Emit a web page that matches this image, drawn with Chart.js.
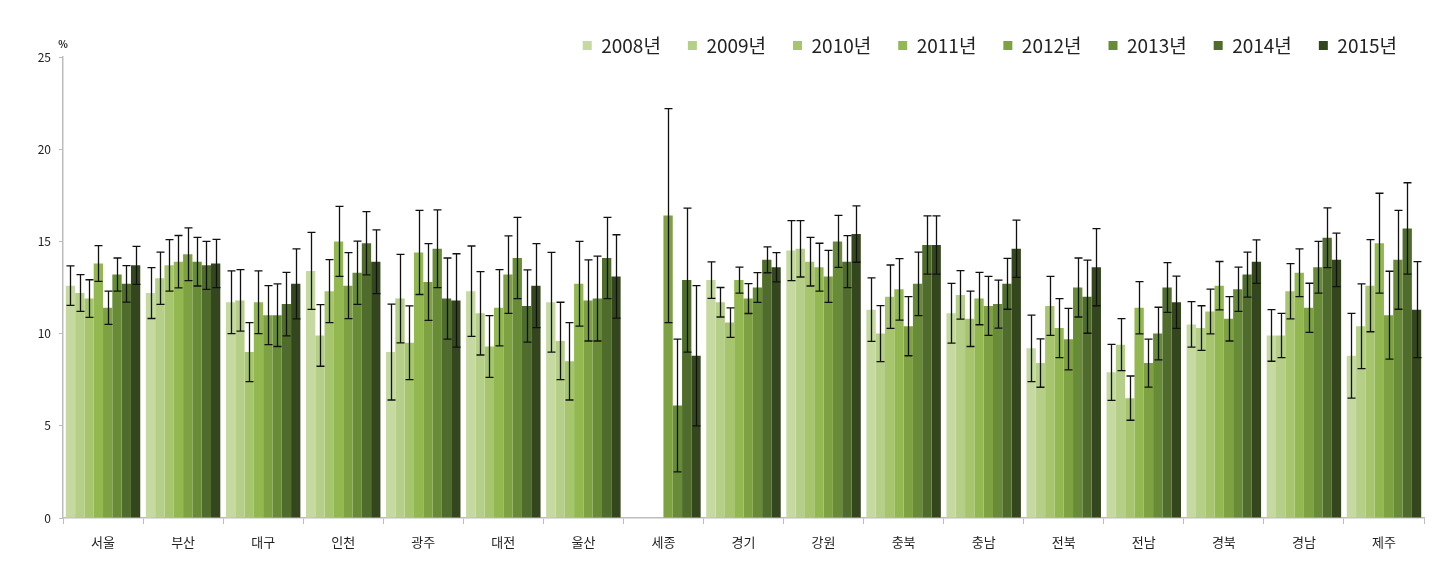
<!DOCTYPE html>
<html>
<head>
<meta charset="utf-8">
<script src="https://cdn.jsdelivr.net/npm/chart.js@4"></script>
<style>
  body { margin: 0; background: #fff; }
  #wrap { width: 1432px; height: 582px; }
</style>
</head>
<body>
<div id="wrap"><canvas id="myChart"></canvas></div>
<script>
const regions = ['서울', '부산', '대구', '인천', '광주', '대전', '울산', '세종', '경기', '강원', '충북', '충남', '전북', '전남', '경북', '경남', '제주'];
const years = ['2008년', '2009년', '2010년', '2011년', '2012년', '2013년', '2014년', '2015년'];
const yearColors = ['#c5d9a0', '#b6cf88', '#a6c56c', '#93b852', '#7ea142', '#678b37', '#4f6c2c', '#34461d'];

// bar values (%) per year, in region order
const v2008 = [12.6, 12.2, 11.7, 13.4, 9.0, 12.3, 11.7, null, 12.9, 14.5, 11.3, 11.1, 9.2, 7.9, 10.5, 9.9, 8.8];
const v2009 = [12.2, 13.0, 11.8, 9.9, 11.9, 11.1, 9.6, null, 11.7, 14.6, 10.0, 12.1, 8.4, 9.4, 10.3, 9.9, 10.4];
const v2010 = [11.9, 13.7, 9.0, 12.3, 9.5, 9.3, 8.5, null, 10.6, 13.9, 12.0, 10.8, 11.5, 6.5, 11.2, 12.3, 12.6];
const v2011 = [13.8, 13.9, 11.7, 15.0, 14.4, 11.4, 12.7, null, 12.9, 13.6, 12.4, 11.9, 10.3, 11.4, 12.6, 13.3, 14.9];
const v2012 = [11.4, 14.3, 11.0, 12.6, 12.8, 13.2, 11.8, 16.4, 11.9, 13.1, 10.4, 11.5, 9.7, 8.4, 10.8, 11.4, 11.0];
const v2013 = [13.2, 13.9, 11.0, 13.3, 14.6, 14.1, 11.9, 6.1, 12.5, 15.0, 12.7, 11.6, 12.5, 10.0, 12.4, 13.6, 14.0];
const v2014 = [12.7, 13.7, 11.6, 14.9, 11.9, 11.5, 14.1, 12.9, 14.0, 13.9, 14.8, 12.7, 12.0, 12.5, 13.2, 15.2, 15.7];
const v2015 = [13.7, 13.8, 12.7, 13.9, 11.8, 12.6, 13.1, 8.8, 13.6, 15.4, 14.8, 14.6, 13.6, 11.7, 13.9, 14.0, 11.3];

// error bar half widths (±) per year
const e2008 = [1.07, 1.38, 1.70, 2.09, 2.60, 2.45, 2.70, null, 0.99, 1.63, 1.72, 1.62, 1.80, 1.52, 1.23, 1.40, 2.30];
const e2009 = [1.00, 1.42, 1.67, 1.67, 2.40, 2.26, 2.10, null, 0.80, 1.53, 1.52, 1.31, 1.31, 1.41, 1.21, 1.20, 2.30];
const e2010 = [1.02, 1.40, 1.60, 1.71, 2.00, 1.67, 2.10, null, 0.80, 1.32, 1.72, 1.50, 1.60, 1.20, 1.21, 1.50, 2.50];
const e2011 = [0.97, 1.42, 1.70, 1.90, 2.28, 2.07, 2.30, null, 0.71, 1.30, 1.67, 1.42, 1.60, 1.42, 1.31, 1.30, 2.71];
const e2012 = [0.90, 1.43, 1.60, 1.79, 2.08, 2.10, 2.20, 5.80, 0.81, 1.41, 1.60, 1.60, 1.67, 1.30, 1.20, 1.33, 2.38];
const e2013 = [0.90, 1.32, 1.70, 1.71, 2.11, 2.20, 2.30, 3.60, 0.81, 1.41, 1.72, 1.30, 1.60, 1.43, 1.20, 1.40, 2.68];
const e2014 = [0.99, 1.30, 1.72, 1.71, 2.20, 1.96, 2.20, 3.90, 0.70, 1.41, 1.58, 1.38, 1.98, 1.35, 1.22, 1.62, 2.48];
const e2015 = [1.03, 1.31, 1.90, 1.73, 2.53, 2.28, 2.26, 3.80, 0.79, 1.53, 1.58, 1.55, 2.09, 1.42, 1.18, 1.45, 2.60];

const yTicks = [0, 5, 10, 15, 20, 25];

const values = [v2008, v2009, v2010, v2011, v2012, v2013, v2014, v2015];
const errors = [e2008, e2009, e2010, e2011, e2012, e2013, e2014, e2015];

const fontFamily = "'Noto Sans CJK KR', 'Noto Sans', sans-serif";

const datasets = years.map((y, i) => ({
    label: y,
    data: values[i],
    errors: errors[i],
    backgroundColor: yearColors[i],
    borderWidth: 0,
    barPercentage: 1.0,
    categoryPercentage: 0.93
}));

// shrink the legend box so the plot starts right under it
const legendHeight = {
    id: 'legendHeight',
    beforeInit(chart) {
        const fit = chart.legend.fit;
        chart.legend.fit = function () {
            fit.call(this);
            this.height = 48;
        };
    }
};

// error bars from the dataset's errors array
const errorBars = {
    id: 'errorBars',
    afterDatasetsDraw(chart) {
        const ctx = chart.ctx;
        const yScale = chart.scales.y;
        ctx.save();
        ctx.strokeStyle = '#111';
        ctx.lineWidth = 1.3;
        chart.data.datasets.forEach((ds, i) => {
            const meta = chart.getDatasetMeta(i);
            meta.data.forEach((bar, j) => {
                const v = ds.data[j];
                const e = ds.errors[j];
                if (v == null || e == null) return;
                const x = Math.round(bar.x) + 0.5;
                const top = yScale.getPixelForValue(v + e);
                const bot = yScale.getPixelForValue(v - e);
                ctx.beginPath();
                ctx.moveTo(x, top);
                ctx.lineTo(x, bot);
                ctx.moveTo(x - 4, top);
                ctx.lineTo(x + 4, top);
                ctx.moveTo(x - 4, bot);
                ctx.lineTo(x + 4, bot);
                ctx.stroke();
            });
        });
        ctx.restore();
    }
};

// "%" unit label above the y axis
const unitLabel = {
    id: 'unitLabel',
    afterDraw(chart) {
        const ctx = chart.ctx;
        const area = chart.chartArea;
        ctx.save();
        ctx.fillStyle = '#222';
        ctx.font = 'bold 10px ' + fontFamily;
        ctx.textAlign = 'center';
        ctx.textBaseline = 'middle';
        ctx.fillText('%', area.left, area.top - 13);
        ctx.restore();
    }
};

const ctx = document.getElementById('myChart').getContext('2d');
const myChart = new Chart(ctx, {
    type: 'bar',
    data: {
        labels: regions,
        datasets: datasets
    },
    options: {
        responsive: true,
        maintainAspectRatio: false,
        animation: false,
        layout: {
            padding: { top: 9, right: 8, bottom: 0, left: 0 }
        },
        plugins: {
            legend: {
                position: 'top',
                align: 'end',
                labels: {
                    boxWidth: 9,
                    boxHeight: 9,
                    padding: 27,
                    color: '#222',
                    font: { family: fontFamily, size: 19 }
                }
            },
            tooltip: { enabled: false }
        },
        scales: {
            x: {
                afterFit: (s) => { s.height = 64; },
                grid: {
                    display: true,
                    drawOnChartArea: false,
                    offset: true,
                    color: '#bdbdbd',
                    tickLength: 6
                },
                border: { color: '#bdbdbd', width: 1.5 },
                ticks: {
                    color: '#222',
                    padding: 10,
                    font: { family: fontFamily, size: 13 }
                }
            },
            y: {
                min: 0,
                max: 25,
                afterFit: (s) => { s.width = 63; },
                afterBuildTicks: (s) => { s.ticks = yTicks.map(v => ({ value: v })); },
                grid: {
                    display: true,
                    drawOnChartArea: false,
                    color: '#bdbdbd',
                    tickLength: 4
                },
                border: { color: '#bdbdbd', width: 1.5 },
                ticks: {
                    color: '#222',
                    padding: 8,
                    font: { family: fontFamily, size: 12 }
                }
            }
        }
    },
    plugins: [legendHeight, errorBars, unitLabel]
});
</script>
</body>
</html>
